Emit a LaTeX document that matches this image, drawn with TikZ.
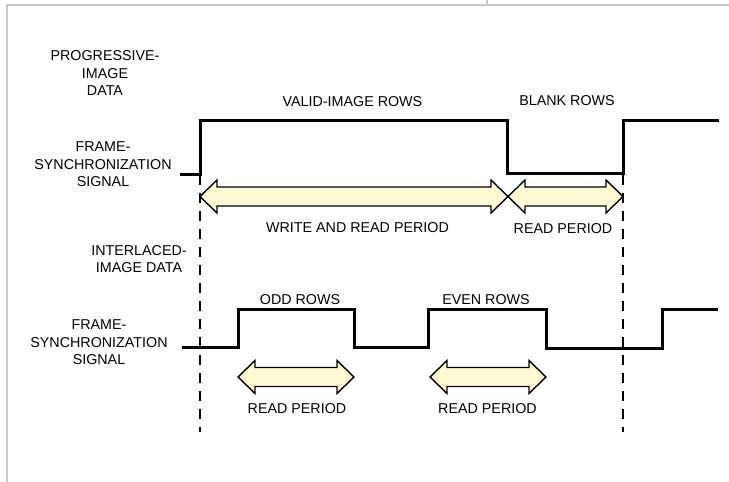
\documentclass[tikz,border=0pt]{standalone}
\usepackage{fontspec}
\setmainfont{Liberation Sans}
\usetikzlibrary{calc}

\definecolor{periodfill}{RGB}{255,250,212}
\definecolor{frameline}{RGB}{200,200,200}

% fat double arrow between two named points
\newcommand{\periodarrow}[2]{%
  \draw[period] (#1) -- ($(#1)+(17,-16.5)$) -- ($(#1)+(17,-9.5)$)
    -- ($(#2)+(-17,-9.5)$) -- ($(#2)+(-17,-16.5)$) -- (#2)
    -- ($(#2)+(-17,16.5)$) -- ($(#2)+(-17,9.5)$)
    -- ($(#1)+(17,9.5)$) -- ($(#1)+(17,16.5)$) -- cycle;}

\begin{document}
\begin{tikzpicture}[x=1pt,y=-1pt]
		\tikzstyle{label}=[inner sep=0pt, font=\fontsize{14.3}{17.5}\selectfont]
		\tikzstyle{side label}=[label, align=center]
		\tikzstyle{signal}=[line width=3pt, line join=miter]
		\tikzstyle{period}=[line width=1.4pt, line join=miter, fill=periodfill]
		\tikzstyle{marker}=[line width=1.5pt, dash pattern=on 10pt off 8pt]

		\useasboundingbox (0,0) rectangle (729,482);
		\draw [frameline, line width=1.5pt] (7,482) -- (7,5) -- (729,5);
		\draw [frameline, line width=1.5pt] (487,0) -- (487,5);

		% progressive image data
		\node [side label] (prog) at (105,73.5) {PROGRESSIVE-\\IMAGE\\DATA};
		\node [side label] (sync1) at (103,164.5) {FRAME-\\SYNCHRONIZATION\\SIGNAL};
		\draw [signal] (180,174) -- (200,174) -- (200,120) -- (507,120)
			-- (507,173) -- (623,173) -- (623,120) -- (719,120);
		\node [label] (valid) at (352.5,102) {VALID-IMAGE ROWS};
		\node [label] (blank) at (567,101) {BLANK ROWS};

		% interlaced image data
		\node [side label] (inter) at (139,259) {INTERLACED-\\IMAGE DATA};
		\node [side label] (sync2) at (99,342.5) {FRAME-\\SYNCHRONIZATION\\SIGNAL};
		\draw [signal] (182,347) -- (238,347) -- (238,309) -- (354,309)
			-- (354,347) -- (428,347) -- (428,309) -- (546,309)
			-- (546,348) -- (662,348) -- (662,309) -- (718,309);
		\node [label] (odd) at (300,300) {ODD ROWS};
		\node [label] (even) at (486,300) {EVEN ROWS};

		% frame boundaries
		\coordinate (m1top) at (200,175);
		\coordinate (m1bot) at (200,432);
		\coordinate (m2top) at (623,175);
		\coordinate (m2bot) at (623,432);
		\draw [marker] (m1top) -- (m1bot);
		\draw [marker] (m2top) -- (m2bot);

		% read and write periods
		\coordinate (a1) at (200,196.5);
		\coordinate (a2) at (508,196.5);
		\coordinate (a3) at (623,196.5);
		\periodarrow{a1}{a2}
		\periodarrow{a2}{a3}
		\node [label] (wr) at (357.5,228) {WRITE AND READ PERIOD};
		\node [label] (rd1) at (563,229) {READ PERIOD};

		\coordinate (b1) at (238,377);
		\coordinate (b2) at (354,377);
		\coordinate (b3) at (430,377);
		\coordinate (b4) at (546,377);
		\periodarrow{b1}{b2}
		\periodarrow{b3}{b4}
		\node [label] (rd2) at (297,409) {READ PERIOD};
		\node [label] (rd3) at (487.5,409) {READ PERIOD};
	\end{tikzpicture}
\end{document}
